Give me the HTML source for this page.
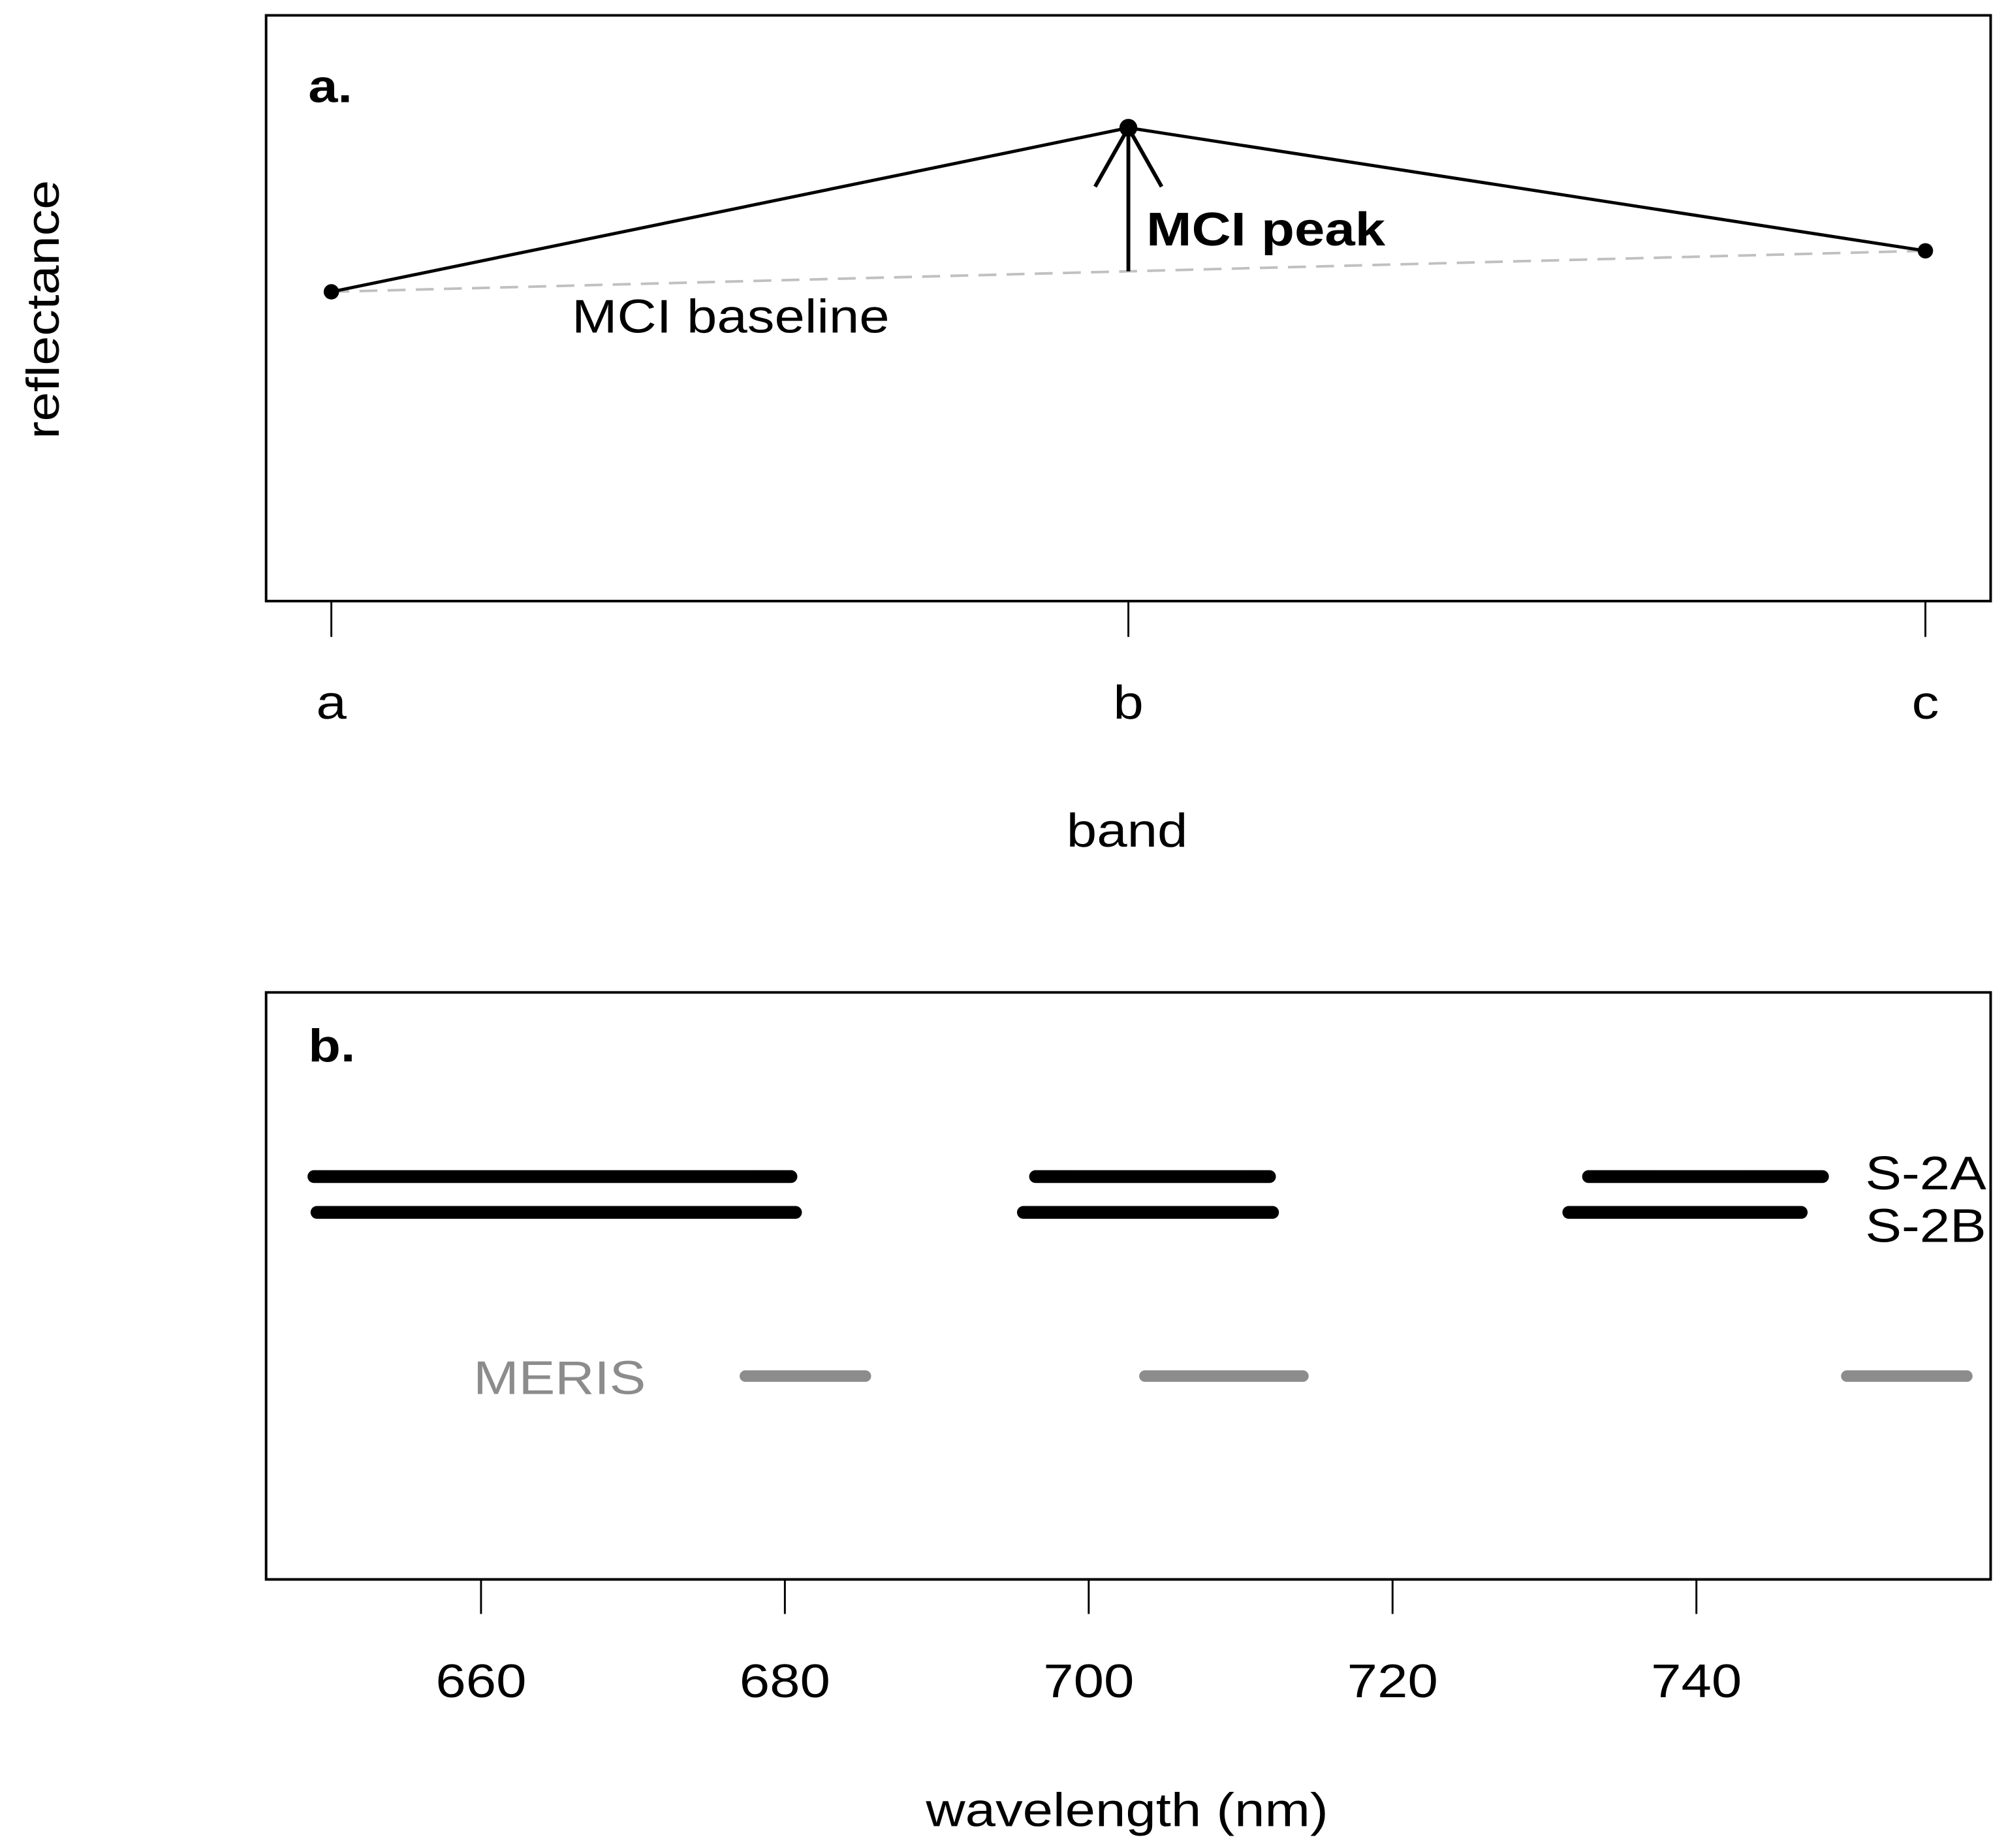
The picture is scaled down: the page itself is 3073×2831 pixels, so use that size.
<!DOCTYPE html>
<html><head><meta charset="utf-8"><style>
html,body{margin:0;padding:0;background:#fff;}
svg{display:block;font-family:"Liberation Sans",sans-serif;}
</style></head><body>
<svg id="chart" width="3073" height="2831" viewBox="0 0 1568 1445" preserveAspectRatio="none" xmlns="http://www.w3.org/2000/svg">
<rect x="0" y="0" width="1568" height="1445" fill="#fff"/>
<g id="pa">
<rect x="208" y="12" width="1348" height="458" fill="none" stroke="#000" stroke-width="2"/>
<text class="wide" x="241" y="80" font-size="36" font-weight="bold">a.</text>
<text class="wide" transform="translate(46,242) rotate(-90)" text-anchor="middle" font-size="36">reflectance</text>
<text class="wide" x="881" y="662" text-anchor="middle" font-size="37">band</text>
</g>
<g id="pb">
<rect x="208" y="776" width="1348" height="459" fill="none" stroke="#000" stroke-width="2"/>
<text class="wide" x="241" y="830" font-size="36" font-weight="bold">b.</text>
<text class="wide" x="881" y="1428" text-anchor="middle" font-size="37">wavelength (nm)</text>
<text class="wide" x="1458" y="930" font-size="37">S-2A</text>
<text class="wide" x="1458" y="971" font-size="37">S-2B</text>
<text class="wide" x="370" y="1090" font-size="37" fill="#8c8c8c">MERIS</text>
</g>
</svg>
<script>
const bands = ['a','b','c'];
const reflectance = [0.528, 0.808, 0.598];
const wlTicks = [660, 680, 700, 720, 740];
const s2aStart = [649.0, 696.5, 732.9];
const s2aEnd = [680.4, 711.9, 748.3];
const s2bStart = [649.2, 695.7, 731.6];
const s2bEnd = [680.7, 712.1, 746.9];
const merisStart = [677.4, 703.7, 749.9];
const merisEnd = [685.3, 714.1, 757.8];

const NS='http://www.w3.org/2000/svg';
const pa=document.getElementById('pa'), pb=document.getElementById('pb');
function mk(parent,tag,attrs){const e=document.createElementNS(NS,tag);for(const k in attrs)e.setAttribute(k,attrs[k]);parent.appendChild(e);return e;}
const xBand=i=>259+i*(1505-259)/(bands.length-1);
const yRef=v=>470-v*458;
const xWl=w=>376+(w-660)*(1326-376)/80;

bands.forEach((b,i)=>{
  const t=mk(pa,'line',{x1:xBand(i),x2:xBand(i),y1:470,y2:498,stroke:'#000','stroke-width':1.5});
  
  
  const l=mk(pa,'text',{x:xBand(i),y:562,'text-anchor':'middle','font-size':37,'class':'wide'});
  l.textContent=b;
  
  
});
const bx0=xBand(0),by0=yRef(reflectance[0]),bx2=xBand(2),by2=yRef(reflectance[2]);
const base=mk(pa,'line',{x1:bx0,y1:by0,x2:bx2,y2:by2,stroke:'#c0c0c0','stroke-width':2,'stroke-dasharray':'14 8'});


const bl=mk(pa,'text',{x:447,y:260,'font-size':37,'class':'wide'});
bl.textContent='MCI baseline';


const pl=mk(pa,'polyline',{points:reflectance.map((v,i)=>xBand(i)+','+yRef(v)).join(' '),fill:'none',stroke:'#000','stroke-width':2.5});


reflectance.forEach((v,i)=>{
  const c=mk(pa,'circle',{cx:xBand(i),cy:yRef(v),r:i===1?7:6,fill:'#000'});
  
  
});
const px=xBand(1), pTop=yRef(reflectance[1]);
const pBase=by0+(by2-by0)*(px-bx0)/(bx2-bx0);
const arr=mk(pa,'path',{d:`M${px},${pBase} L${px},${pTop} M${px-26},${pTop+46} L${px},${pTop} L${px+26},${pTop+46}`,fill:'none',stroke:'#000','stroke-width':3});


const pk=mk(pa,'text',{x:px+14,y:192,'font-size':37,'font-weight':'bold','class':'wide'});
pk.textContent='MCI peak';



mk(pb,'line',{x1:208,x2:1556,y1:1235,y2:1235,stroke:'#000','stroke-width':2});
wlTicks.forEach(w=>{
  const t=mk(pb,'line',{x1:xWl(w),x2:xWl(w),y1:1235,y2:1262,stroke:'#000','stroke-width':1.5});
  
  
  const l=mk(pb,'text',{x:xWl(w),y:1327,'text-anchor':'middle','font-size':37,'class':'wide'});
  l.textContent=w;
  
  
});
function bars(starts,ends,y,color,w,name){
  starts.forEach((s,i)=>{
    const l=mk(pb,'line',{x1:xWl(s),x2:xWl(ends[i]),y1:y,y2:y,stroke:color,'stroke-width':w,'stroke-linecap':'round'});
    
    
  });
}
bars(s2aStart,s2aEnd,920,'#000',10,'s2a-band');
bars(s2bStart,s2bEnd,948,'#000',10,'s2b-band');
bars(merisStart,merisEnd,1076,'#8c8c8c',9,'meris-band');

document.querySelectorAll('text.wide').forEach(t=>{
  const len=t.getComputedTextLength();
  t.setAttribute('textLength',(len*1.15).toFixed(1));
  t.setAttribute('lengthAdjust','spacingAndGlyphs');
});
</script>
</body></html>
